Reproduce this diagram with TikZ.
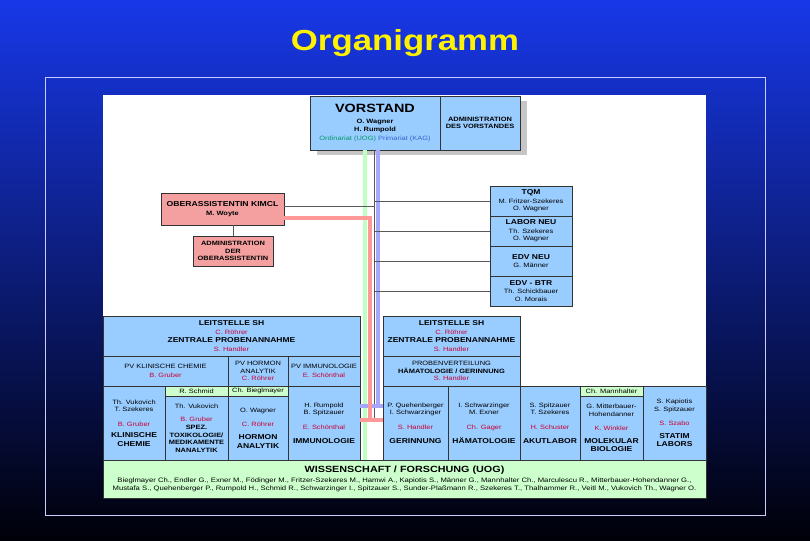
\documentclass[tikz,border=0pt]{standalone}
\usepackage{fontspec}
\setmainfont{Liberation Sans}[FakeStretch=1.2]
\usetikzlibrary{positioning}
\definecolor{boxblue}{HTML}{99CCFF}
\definecolor{boxred}{HTML}{F4A0A0}
\definecolor{boxgreen}{HTML}{CCFFCC}
\definecolor{txred}{HTML}{CC0033}
\definecolor{txgreen}{HTML}{009966}
\definecolor{txblue}{HTML}{3366CC}
\definecolor{bgtop}{HTML}{1838E8}
\definecolor{bgbot}{HTML}{000008}
\newcommand\tx{\fontsize{6.2}{7.6}\selectfont}
\newcommand\hd{\fontsize{7.1}{8.8}\selectfont\bfseries}
\newcommand\rd[1]{\textcolor{txred}{#1}}
% box: name, x1, y1, x2, y2, fill, text
\newcommand\bx[7]{\node[orgbox, fill=#6, minimum width={(#4-#2)*1pt}, minimum height={(#5-#3)*1pt}]
  (#1) at ({(#2+#4)/2},{(#3+#5)/2}) {#7};}
\begin{document}
\begin{tikzpicture}[x=1pt, y=-1pt,
            orgbox/.style={draw=black!80, line width=0.5pt, inner sep=0pt, align=center, font=\tx},
            link/.style={draw=gray!70!black, line width=0.7pt},
            band/.style={line width=3.5pt},
        ]
            %Background
            \shade[top color=bgtop, bottom color=bgbot] (0,0) rectangle (810,540);
            \useasboundingbox (0,0) rectangle (810,540);
            \draw[blue!20, line width=1pt] (45,78) rectangle (765,515);
            \fill[white] (103,95) rectangle (706,498);
            \node[text=yellow, font=\fontsize{29}{34}\selectfont\bfseries] (title) at (405,43) {Organigramm};

            %Top nodes
            \fill[gray!45] (317,101) rectangle (527,155);
            \bx{vorstand}{310}{96}{440}{150}{boxblue}{{\fontsize{12}{14}\selectfont\bfseries VORSTAND}\\[3pt]
              \bfseries O. Wagner\\[1pt]\bfseries H. Rumpold\\[1pt]\textcolor{txgreen}{Ordinariat (UOG)} \textcolor{txblue}{Primariat (KAG)}}
            \bx{admv}{440}{96}{520}{150}{boxblue}{\bfseries ADMINISTRATION\\\bfseries DES VORSTANDES}
            \bx{kimcl}{161}{193}{284}{225}{boxred}{{\fontsize{7.2}{9}\selectfont\bfseries OBERASSISTENTIN KIMCL}\\[1pt]\bfseries M. Woyte}
            \bx{admoa}{193}{236}{273}{266}{boxred}{\bfseries ADMINISTRATION\\\bfseries DER\\\bfseries OBERASSISTENTIN}
            \bx{tqm}{490}{186}{572}{216}{boxblue}{{\hd TQM}\\[1pt]M. Fritzer-Szekeres\\O. Wagner}
            \bx{labor}{490}{216}{572}{246}{boxblue}{{\hd LABOR NEU}\\[1pt]Th. Szekeres\\O. Wagner}
            \bx{edvneu}{490}{246}{572}{276}{boxblue}{{\hd EDV NEU}\\[1pt]G. Männer}
            \bx{edvbtr}{490}{276}{572}{306}{boxblue}{{\hd EDV - BTR}\\[1pt]Th. Schickbauer\\O. Morais}

            %Left block
            \bx{leitl}{103}{316}{360}{356}{boxblue}{{\hd LEITSTELLE SH}\\[1pt]\rd{C. Röhrer}\\[1pt]{\hd ZENTRALE PROBENANNAHME}\\[1pt]\rd{S. Handler}}
            \bx{pvkc}{103}{356}{228}{386}{boxblue}{PV KLINISCHE CHEMIE\\[1pt]\rd{B. Gruber}}
            \bx{pvha}{228}{356}{288}{386}{boxblue}{PV HORMON\\ANALYTIK\\\rd{C. Röhrer}}
            \bx{pvim}{288}{356}{360}{386}{boxblue}{PV IMMUNOLOGIE\\[1pt]\rd{E. Schönthal}}
            \bx{kc}{103}{386}{165}{460}{boxblue}{Th. Vukovich\\T. Szekeres\\[7pt]\rd{B. Gruber}\\[4pt]\hd KLINISCHE\\[1pt]\hd CHEMIE}
            \bx{schmid}{165}{386}{228}{396}{boxgreen}{R. Schmid}
            \bx{tox}{165}{396}{228}{460}{boxblue}{Th. Vukovich\\[6pt]\rd{B. Gruber}\\\bfseries SPEZ.\\\bfseries TOXIKOLOGIE/\\\bfseries MEDIKAMENTE\\\bfseries NANALYTIK}
            \bx{bieg}{228}{386}{288}{396}{boxgreen}{Ch. Bieglmayer}
            \bx{ha}{228}{396}{288}{460}{boxblue}{O. Wagner\\[7pt]\rd{C. Röhrer}\\[5pt]\hd HORMON\\[1pt]\hd ANALYTIK}
            \bx{im}{288}{386}{360}{460}{boxblue}{H. Rumpold\\B. Spitzauer\\[7pt]\rd{E. Schönthal}\\[6pt]\hd IMMUNOLOGIE}

            %Right block
            \bx{leitr}{383}{316}{520}{356}{boxblue}{{\hd LEITSTELLE SH}\\[1pt]\rd{C. Röhrer}\\[1pt]{\hd ZENTRALE PROBENANNAHME}\\[1pt]\rd{S. Handler}}
            \bx{pvhg}{383}{356}{520}{386}{boxblue}{PROBENVERTEILUNG\\\bfseries HÄMATOLOGIE / GERINNUNG\\\rd{S. Handler}}
            \bx{ger}{383}{386}{448}{460}{boxblue}{P. Quehenberger\\I. Schwarzinger\\[7pt]\rd{S. Handler}\\[6pt]\hd GERINNUNG}
            \bx{haem}{448}{386}{520}{460}{boxblue}{I. Schwarzinger\\M. Exner\\[7pt]\rd{Ch. Gager}\\[6pt]\hd HÄMATOLOGIE}
            \bx{akut}{520}{386}{580}{460}{boxblue}{S. Spitzauer\\T. Szekeres\\[7pt]\rd{H. Schuster}\\[6pt]\hd AKUTLABOR}
            \bx{mann}{580}{386}{643}{396}{boxgreen}{Ch. Mannhalter}
            \bx{mol}{580}{396}{643}{460}{boxblue}{G. Mitterbauer-\\Hohendanner\\[7pt]\rd{K. Winkler}\\[5pt]\hd MOLEKULAR\\[1pt]\hd BIOLOGIE}
            \bx{statim}{643}{386}{706}{460}{boxblue}{S. Kapiotis\\S. Spitzauer\\[7pt]\rd{S. Szabo}\\[5pt]\hd STATIM\\[1pt]\hd LABORS}

            %Research
            \bx{wiss}{103}{460}{706}{498}{boxgreen}{{\fontsize{9}{11}\selectfont\bfseries WISSENSCHAFT / FORSCHUNG (UOG)}\\[2pt]
              \fontsize{6.4}{8.5}\selectfont Bieglmayer Ch., Endler G., Exner M., Födinger M., Fritzer-Szekeres M., Hamwi A., Kapiotis S., Männer G., Mannhalter Ch., Marculescu R., Mitterbauer-Hohendanner G.,\\[1pt]
              \fontsize{6.4}{8.5}\selectfont Mustafa S., Quehenberger P., Rumpold H., Schmid R., Schwarzinger I., Spitzauer S., Sunder-Plaßmann R., Szekeres T., Thalhammer R., Veitl M., Vukovich Th., Wagner O.}

            %Lines
            \coordinate (gtop) at (365,150);
            \coordinate (ktop) at (374,150);
            \coordinate (btop) at (378,150);
            \draw[band, green!25] (gtop) -- (gtop |- wiss.north);
            \draw[link] (ktop) -- (374,420);
            \draw[band, blue!35] (btop) -- (378,406) coordinate (bjoin);
            \draw[band, blue!35] (leitl.east |- bjoin) -- (leitr.west |- bjoin);
            \draw[band, red!40] (kimcl.east |- 0,218) -| (370,420) coordinate (rjoin);
            \draw[band, red!40] (leitl.east |- rjoin) -- (leitr.west |- rjoin);
            \draw[link] (kimcl.east |- 0,206) -- (374,206);
            \draw[link] (admoa.north |- kimcl.south) -- (admoa.north);
            \foreach \n in {tqm, labor, edvneu, edvbtr}
              \draw[link] (374,0 |- \n.west) -- (\n.west);
        \end{tikzpicture}
\end{document}
